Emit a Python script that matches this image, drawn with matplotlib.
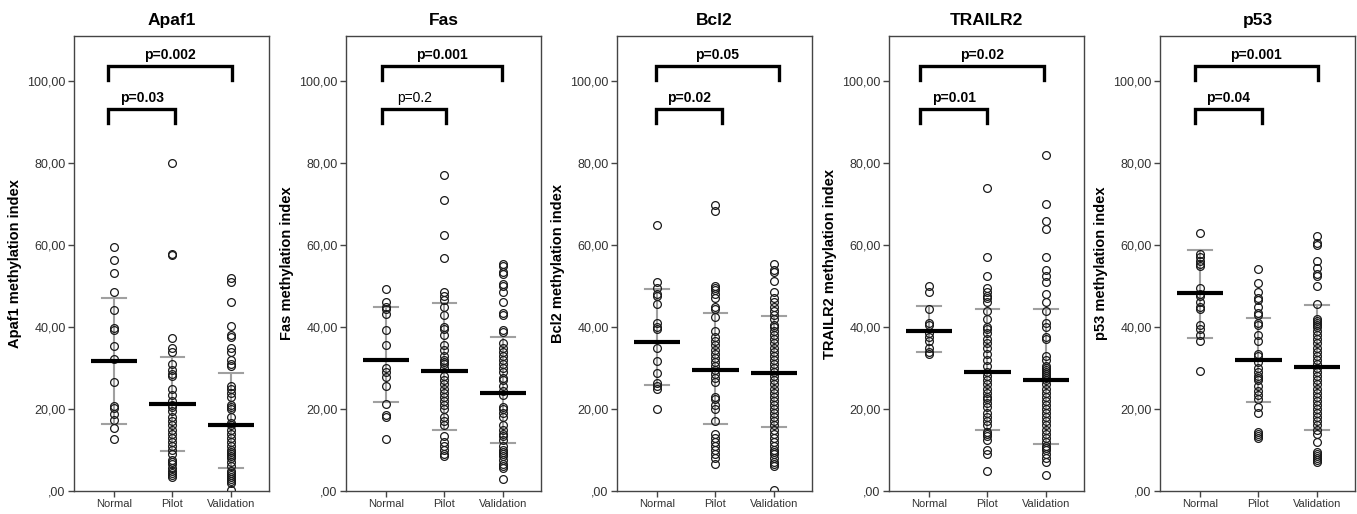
import matplotlib
matplotlib.use("Agg")
import matplotlib.pyplot as plt
import numpy as np

plt.rcParams['font.family'] = ['Liberation Sans', 'DejaVu Sans']

genes = ["Apaf1", "Fas", "Bcl2", "TRAILR2", "p53"]
groups = ["Normal", "Pilot", "Validation"]

apaf1_normal = [59.6, 56.3, 53.3, 48.5, 44.1, 39.7, 39.3, 35.3, 32.3, 26.5, 20.7, 20.2, 18.9, 17.3, 15.4, 12.7]
apaf1_pilot = [80.1, 57.8, 57.5, 37.4, 34.8, 34.0, 31.0, 29.5, 28.5, 28.0, 24.9, 23.5, 22.0, 21.0, 20.5, 19.5,
               18.0, 17.0, 16.0, 15.0, 14.0, 13.0, 12.0, 11.0, 10.0, 9.0, 7.5, 7.0, 6.5, 5.5, 5.0, 4.5, 4.0, 3.5]
apaf1_valid = [51.9, 51.0, 46.0, 40.3, 38.0, 37.5, 35.0, 34.0, 32.0, 31.0, 30.5, 25.5, 25.0, 24.0, 23.0, 21.0,
               20.5, 20.0, 18.0, 16.5, 16.0, 15.0, 14.0, 13.0, 12.0, 11.0, 10.0, 9.5, 9.0, 8.5, 8.0, 7.0, 6.0,
               5.0, 4.5, 4.0, 3.5, 3.0, 2.5, 2.0, 0.2]

fas_normal = [49.3, 46.0, 45.0, 44.5, 43.3, 39.3, 35.7, 30.0, 29.0, 27.9, 25.5, 21.3, 18.5, 18.0, 12.6]
fas_pilot = [77.0, 71.0, 62.5, 56.8, 48.5, 47.5, 46.5, 45.0, 43.0, 40.0, 39.5, 38.0, 35.5, 34.5, 33.0, 32.0,
             31.5, 31.0, 30.0, 28.0, 27.0, 26.0, 25.0, 24.0, 23.0, 22.0, 21.0, 20.0, 18.0, 17.0, 16.0, 13.5,
             12.0, 11.0, 10.0, 9.0, 8.5]
fas_valid = [55.5, 55.0, 53.5, 53.0, 50.5, 50.0, 48.5, 46.0, 43.5, 43.0, 39.3, 38.8, 36.0, 35.0, 34.0, 33.0,
             32.0, 31.0, 30.0, 29.0, 27.5, 27.0, 25.5, 24.5, 23.5, 20.5, 20.0, 19.0, 18.0, 16.0, 15.0, 14.0,
             13.5, 12.5, 11.0, 10.0, 9.5, 9.0, 8.5, 7.5, 6.5, 6.0, 5.5, 3.0]

bcl2_normal = [64.8, 51.0, 49.5, 48.0, 47.5, 45.5, 41.0, 40.0, 39.5, 35.0, 31.7, 28.8, 26.3, 25.5, 24.8, 20.0]
bcl2_pilot = [69.8, 68.4, 50.0, 49.5, 49.0, 48.0, 47.0, 45.0, 44.5, 42.5, 39.0, 37.5, 36.5, 35.5, 34.5, 33.5,
              32.5, 31.5, 30.5, 29.5, 28.5, 27.5, 26.5, 23.0, 22.5, 21.0, 20.0, 17.0, 14.0, 13.0, 12.0, 11.0,
              10.0, 9.0, 8.0, 6.5]
bcl2_valid = [55.5, 54.0, 53.5, 51.3, 48.5, 47.0, 46.0, 45.0, 44.0, 43.0, 42.0, 40.5, 40.0, 39.0, 38.0, 37.0,
              36.0, 35.0, 34.0, 33.0, 32.0, 31.0, 30.0, 29.0, 28.0, 27.0, 26.0, 25.0, 24.0, 23.0, 22.0, 21.0,
              20.0, 19.0, 18.0, 17.0, 16.0, 15.0, 14.0, 13.0, 12.0, 11.0, 10.0, 9.5, 9.0, 8.0, 7.0, 6.5, 6.0, 0.3]

trailr2_normal = [50.0, 48.5, 44.5, 41.0, 40.5, 38.5, 37.5, 36.5, 35.0, 34.0, 33.5]
trailr2_pilot = [74.0, 57.2, 52.5, 49.5, 48.5, 47.5, 47.0, 46.0, 44.0, 42.0, 40.0, 39.5, 38.5, 37.0, 36.0, 35.0,
                 33.5, 32.0, 30.5, 29.0, 28.0, 27.0, 26.0, 25.0, 24.0, 23.0, 22.5, 21.5, 20.5, 19.0, 18.0, 17.0,
                 16.0, 14.5, 14.0, 13.5, 12.5, 10.0, 9.0, 5.0]
trailr2_valid = [82.0, 70.0, 65.8, 64.0, 57.2, 54.0, 52.5, 51.0, 48.0, 46.0, 44.0, 41.0, 40.0, 37.5, 37.0, 33.0,
                 32.0, 30.5, 30.0, 29.5, 29.0, 28.5, 28.0, 27.5, 27.0, 26.0, 25.0, 24.0, 23.0, 22.0, 21.0, 20.0,
                 19.0, 18.0, 17.0, 16.0, 15.0, 14.0, 13.0, 12.0, 11.0, 10.5, 10.0, 9.0, 8.0, 7.0, 4.0]

p53_normal = [62.9, 57.7, 57.0, 56.0, 55.5, 55.0, 49.5, 48.0, 47.5, 46.0, 45.0, 44.5, 40.5, 39.5, 38.0, 36.5, 29.3]
p53_pilot = [54.2, 50.8, 48.5, 47.0, 46.5, 45.0, 43.5, 43.0, 41.0, 40.5, 38.0, 36.5, 33.5, 33.0, 31.5, 30.0,
             29.0, 28.0, 27.5, 27.0, 25.5, 24.5, 23.5, 22.5, 20.5, 19.0, 14.5, 14.0, 13.5, 13.0]
p53_valid = [62.2, 60.5, 60.0, 56.0, 54.5, 53.0, 52.5, 50.0, 45.5, 42.0, 41.5, 41.0, 40.5, 40.0, 39.0, 38.0,
             37.0, 36.0, 35.0, 34.0, 33.0, 32.0, 31.0, 30.0, 29.0, 28.0, 27.0, 26.0, 25.0, 24.0, 23.0, 22.0,
             21.0, 20.0, 19.0, 18.0, 17.0, 16.0, 15.0, 14.0, 12.0, 9.5, 9.0, 8.5, 8.0, 7.5, 7.0]

# group means and mean +/- SD limits
apaf1_mean = [31.6, 21.2, 16.0]
apaf1_lo = [16.3, 9.8, 5.6]
apaf1_hi = [47.0, 32.6, 28.7]
fas_mean = [31.9, 29.2, 23.9]
fas_lo = [21.6, 14.9, 11.8]
fas_hi = [44.9, 45.9, 37.5]
bcl2_mean = [36.3, 29.6, 28.9]
bcl2_lo = [25.9, 16.4, 15.6]
bcl2_hi = [49.2, 43.5, 42.8]
trailr2_mean = [39.1, 29.1, 27.0]
trailr2_lo = [34.0, 15.0, 11.4]
trailr2_hi = [45.1, 44.5, 44.3]
p53_mean = [48.3, 32.0, 30.2]
p53_lo = [37.4, 21.7, 14.8]
p53_hi = [58.9, 42.3, 45.4]

p_inner = ["p=0.03", "p=0.2", "p=0.02", "p=0.01", "p=0.04"]
p_inner_bold = [True, False, True, True, True]
p_outer = ["p=0.002", "p=0.001", "p=0.05", "p=0.02", "p=0.001"]

points = [
    [apaf1_normal, apaf1_pilot, apaf1_valid],
    [fas_normal, fas_pilot, fas_valid],
    [bcl2_normal, bcl2_pilot, bcl2_valid],
    [trailr2_normal, trailr2_pilot, trailr2_valid],
    [p53_normal, p53_pilot, p53_valid],
]
means = [apaf1_mean, fas_mean, bcl2_mean, trailr2_mean, p53_mean]
los = [apaf1_lo, fas_lo, bcl2_lo, trailr2_lo, p53_lo]
his = [apaf1_hi, fas_hi, bcl2_hi, trailr2_hi, p53_hi]

# bracket leg positions (style)
br_left = [0.90, 0.94, 0.98, 0.85, 0.91]
br_inner_right = [2.05, 2.03, 2.12, 2.00, 2.06]
br_outer_right = [3.02, 2.99, 3.08, 2.97, 3.02]

W, H = 1357, 514
fig = plt.figure(figsize=(W / 100, H / 100), dpi=100)
lefts_px = [74, 346, 617, 889, 1160]
ax_w = 195 / W
ax_b = 1 - 491 / H
ax_h = (491 - 36) / H

frame_col = "#444444"
tick_col = "#333333"


def fmt(v):
    s = f"{v:.2f}".replace(".", ",")
    if s.startswith("0,"):
        s = s[1:]
    return s


for i, gene in enumerate(genes):
    ax = fig.add_axes([lefts_px[i] / W, ax_b, ax_w, ax_h])
    xs = np.arange(1, 4)
    for j in range(3):
        # SD bar
        ax.plot([xs[j], xs[j]], [los[i][j], his[i][j]], color="#a0a0a0", lw=1.5, zorder=1)
        for yy in (los[i][j], his[i][j]):
            ax.plot([xs[j] - 0.2, xs[j] + 0.2], [yy, yy], color="#a0a0a0", lw=1.5, zorder=1)
        vals = points[i][j]
        ax.plot(np.full(len(vals), xs[j]), vals, linestyle="none", marker="o",
                markersize=5.6, markerfacecolor="none", markeredgecolor="#1a1a1a",
                markeredgewidth=0.9, zorder=2)
        ax.plot([xs[j] - 0.4, xs[j] + 0.4], [means[i][j], means[i][j]], color="black",
                lw=3.0, solid_capstyle="butt", zorder=3)

    # brackets
    bl = br_left[i]
    bi = br_inner_right[i]
    bo = br_outer_right[i]
    ax.plot([bl, bl, bi, bi], [89.8, 93.2, 93.2, 89.8], color="black", lw=2.4,
            solid_joinstyle="miter", zorder=4)
    ax.plot([bl, bl, bo, bo], [100.2, 103.7, 103.7, 100.2], color="black", lw=2.4,
            solid_joinstyle="miter", zorder=4)
    ax.text((bl + bi) / 2, 95.9, p_inner[i], ha="center", va="center", fontsize=10,
            fontweight="bold" if p_inner_bold[i] else "normal", color="black")
    ax.text((bl + bo) / 2, 106.4, p_outer[i], ha="center", va="center", fontsize=10,
            fontweight="bold", color="black")

    ax.set_xlim(0.317, 3.65)
    ax.set_ylim(0, 111)
    ax.set_xticks(xs)
    ax.set_xticklabels(groups, fontsize=8, color=tick_col)
    yt = [0, 20, 40, 60, 80, 100]
    ax.set_yticks(yt)
    ax.set_yticklabels([fmt(v) for v in yt], fontsize=9, color=tick_col)
    ax.tick_params(axis="both", direction="out", length=4, width=1, color=frame_col, pad=2)
    for sp in ax.spines.values():
        sp.set_color(frame_col)
        sp.set_linewidth(1.0)
    ax.set_ylabel(f"{gene} methylation index", fontsize=10.5, fontweight="bold", labelpad=4)
    ax.set_title(gene, fontsize=12.5, fontweight="bold", pad=8)

fig.savefig("out.png", dpi=100)
